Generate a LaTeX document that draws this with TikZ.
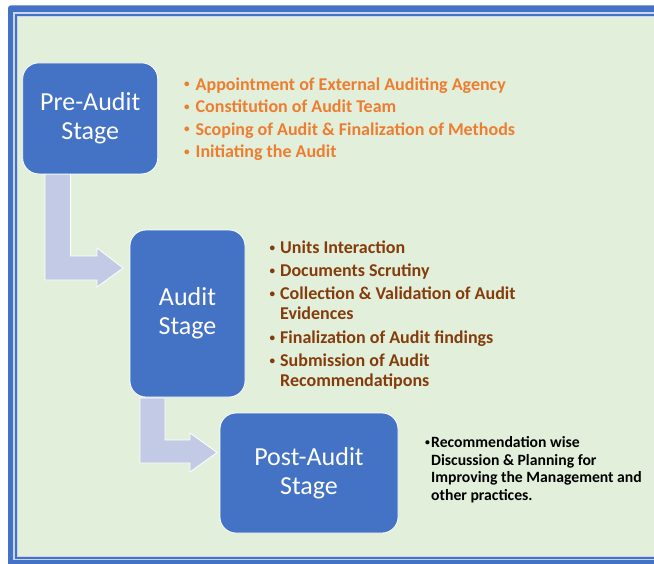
\documentclass[tikz,border=0pt]{standalone}
\usepackage{fontspec}
\setmainfont{Carlito}
\usepackage{array}
\definecolor{frameblue}{HTML}{4472C4}
\definecolor{framelight}{HTML}{C9D6EE}
\definecolor{bggreen}{HTML}{E2EFDA}
\definecolor{stageblue}{HTML}{4472C4}
\definecolor{arrowfill}{HTML}{C2CAE6}
\definecolor{orangetext}{HTML}{ED7D31}
\definecolor{browntext}{HTML}{843C0C}
% small list bullet
\newcommand\listdot{\raisebox{0.12em}{\scalebox{0.62}{\textbullet}}}
\begin{document}
\begin{tikzpicture}[x=1pt,y=-1pt,
  stage/.style={fill=stageblue, draw=white, line width=0.8pt, rounded corners=16pt,
    text=white, align=center, font=\fontsize{26}{29}\selectfont, inner sep=0pt},
  flowarrow/.style={fill=arrowfill, draw=white, line width=0.8pt},
  bulletlist/.style={anchor=base west, inner sep=0pt, align=left}]
\useasboundingbox (0,0) rectangle (654,563);
\fill[white] (0,0) rectangle (654,563);
% double page border, open on the right
\begin{scope}
\clip (0,0) rectangle (654,563);
\fill[frameblue, rounded corners=3pt] (8,5.3) rectangle (700,575);
\fill[framelight] (13.3,12.3) rectangle (700,560);
\fill[frameblue] (14.7,13.7) rectangle (700,558.7);
\fill[framelight] (16.7,15.7) rectangle (700,557);
\fill[bggreen] (18,17) rectangle (700,556);
\end{scope}

% bent arrows between stages
\draw[flowarrow] (45,174) -- (70.5,174) -- (70.5,256) -- (97,256) -- (97,248)
  -- (123,268) -- (97,287) -- (97,280) -- (45,280) -- cycle;
\draw[flowarrow] (140,398) -- (165,398) -- (165,440) -- (190,440) -- (190,433)
  -- (217,452.5) -- (190,472) -- (190,463) -- (140,463) -- cycle;

% stages
\node[stage, minimum width=135pt, minimum height=111pt] (pre) at (90.2,118.4) {Pre-Audit\\Stage};
\node[stage, minimum width=115pt, minimum height=167pt] (audit) at (187.5,313.5) {Audit\\Stage};
\node[stage, minimum width=178pt, minimum height=120pt] (post) at (309,473) {Post-Audit\\Stage};

% activity lists
\node[bulletlist, text=orangetext, font=\bfseries\fontsize{18}{22.5}\selectfont] (prelist) at (184,90)
{\begin{tabular}[t]{@{}l@{}l@{}}
\makebox[11.5pt][l]{\listdot} & Appointment of External Auditing Agency\\
\makebox[11.5pt][l]{\listdot} & Constitution of Audit Team\\
\makebox[11.5pt][l]{\listdot} & Scoping of Audit \& Finalization of Methods\\
\makebox[11.5pt][l]{\listdot} & Initiating the Audit
\end{tabular}};

\node[bulletlist, text=browntext, font=\bfseries\fontsize{18}{20}\selectfont] (auditlist) at (269.5,253.3)
{\begin{tabular}[t]{@{}l@{}l@{}}
\makebox[10.5pt][l]{\listdot} & Units Interaction\\[3.3pt]
\makebox[10.5pt][l]{\listdot} & Documents Scrutiny\\[3.3pt]
\makebox[10.5pt][l]{\listdot} & Collection \& Validation of Audit\\
 & Evidences\\[3.3pt]
\makebox[10.5pt][l]{\listdot} & Finalization of Audit findings\\[3.3pt]
\makebox[10.5pt][l]{\listdot} & Submission of Audit\\
 & Recommendatipons
\end{tabular}};

\node[bulletlist, text=black, font=\bfseries\fontsize{15.7}{17.5}\selectfont] (postlist) at (425,447.7)
{\begin{tabular}[t]{@{}l@{}l@{}}
\makebox[6pt][l]{\listdot} & Recommendation wise\\
 & Discussion \& Planning for\\
 & Improving the Management and\\
 & other practices.
\end{tabular}};
\end{tikzpicture}
\end{document}
